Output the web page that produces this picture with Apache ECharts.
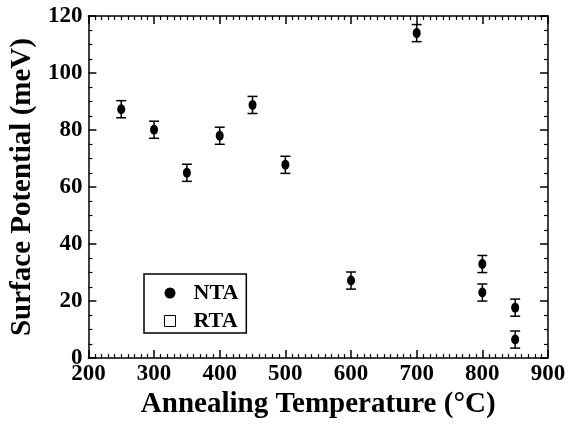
<!DOCTYPE html>
<html>
<head>
<meta charset="utf-8">
<script src="https://cdn.jsdelivr.net/npm/echarts@6/dist/echarts.min.js"></script>
<style>
  html, body { margin: 0; padding: 0; background: #fff; }
  #chart { width: 569px; height: 424px; }
</style>
</head>
<body>
<div id="chart"></div>
<script>
// annealing temperature (°C) and surface potential (meV), NTA samples
const temps = [250, 300, 350, 400, 450, 500, 600, 700, 800, 800, 850, 850]
const potentials = [87.3, 80.1, 65.0, 78.0, 88.8, 67.8, 27.2, 114.0, 33.0, 23.0, 17.7, 6.5]
const errors = [3, 3, 3, 3, 3, 3, 3, 3, 3, 3, 3, 3]
const xTicks = [200, 300, 400, 500, 600, 700, 800, 900]
const yTicks = [0, 20, 40, 60, 80, 100, 120]

const FONT = '"Liberation Serif", "Times New Roman", serif'

const chart = echarts.init(document.getElementById('chart'))

const points = temps.map((t, i) => [t, potentials[i]])
const bars = temps.map((t, i) => [t, potentials[i] - errors[i], potentials[i] + errors[i]])

const tickStyle = { color: '#000', width: 1.5 }

function axisBase(min, max, interval, minorSplit) {
    return {
        min, max, interval,
        axisLine: { show: true, onZero: false, lineStyle: { color: '#000', width: 1.5 } },
        axisTick: { show: true, inside: true, length: 8, lineStyle: tickStyle },
        minorTick: { show: true, splitNumber: minorSplit, length: 4, lineStyle: { color: '#000', width: 1.2 } },
        splitLine: { show: false }
    }
}

const labelStyle = { color: '#000', fontFamily: FONT, fontWeight: 'bold', fontSize: 23 }
const nameStyle = { color: '#000', fontFamily: FONT, fontWeight: 'bold', fontSize: 29 }

chart.setOption({
    animation: false,
    backgroundColor: '#fff',
    grid: { left: 86, right: 21, top: 16, bottom: 63 },
    legend: {
        left: 144, top: 274,
        orient: 'vertical',
        itemGap: 6,
        itemWidth: 11, itemHeight: 11,
        padding: [8, 8, 1, 20],
        borderColor: '#000', borderWidth: 1.5,
        textStyle: { color: '#000', fontFamily: FONT, fontWeight: 'bold', fontSize: 22, padding: [0, 0, 0, 13] },
        data: [
            { name: 'NTA', icon: 'circle', itemStyle: { color: '#000', opacity: 1 } },
            { name: 'RTA', icon: 'rect', itemStyle: { color: '#fff', borderColor: '#000', borderWidth: 1, opacity: 1 } }
        ]
    },
    xAxis: [
        Object.assign(axisBase(xTicks[0], xTicks[xTicks.length - 1], 100, 10), {
            type: 'value', position: 'bottom',
            name: 'Annealing Temperature (°C)', nameLocation: 'middle', nameGap: 30,
            nameTextStyle: nameStyle,
            axisLabel: Object.assign({ margin: 4 }, labelStyle)
        }),
        Object.assign(axisBase(xTicks[0], xTicks[xTicks.length - 1], 100, 10), {
            type: 'value', position: 'top',
            axisLabel: { show: false }
        })
    ],
    yAxis: [
        Object.assign(axisBase(yTicks[0], yTicks[yTicks.length - 1], 20, 4), {
            type: 'value', position: 'left',
            name: 'Surface Potential (meV)', nameLocation: 'middle', nameGap: 42,
            nameTextStyle: nameStyle,
            axisLabel: Object.assign({ margin: 6 }, labelStyle)
        }),
        Object.assign(axisBase(yTicks[0], yTicks[yTicks.length - 1], 20, 4), {
            type: 'value', position: 'right',
            axisLabel: { show: false }
        })
    ],
    series: [
        {
            name: 'NTA',
            type: 'scatter',
            data: points,
            symbol: 'circle',
            symbolSize: [8, 10],
            itemStyle: { color: '#000', opacity: 1 },
            z: 3
        },
        {
            name: 'RTA',
            type: 'scatter',
            data: [],
            symbol: 'rect',
            itemStyle: { color: '#fff', borderColor: '#000', borderWidth: 1, opacity: 1 }
        },
        {
            name: 'errors',
            type: 'custom',
            data: bars,
            renderItem: (params, api) => {
                const x = api.value(0)
                const lo = api.coord([x, api.value(1)])
                const hi = api.coord([x, api.value(2)])
                const half = 5
                const style = { stroke: '#000', lineWidth: 1.5 }
                return {
                    type: 'group',
                    children: [
                        { type: 'line', shape: { x1: lo[0], y1: lo[1], x2: hi[0], y2: hi[1] }, style },
                        { type: 'line', shape: { x1: lo[0] - half, y1: lo[1], x2: lo[0] + half, y2: lo[1] }, style },
                        { type: 'line', shape: { x1: hi[0] - half, y1: hi[1], x2: hi[0] + half, y2: hi[1] }, style }
                    ]
                }
            },
            z: 2
        }
    ]
})
</script>
</body>
</html>
